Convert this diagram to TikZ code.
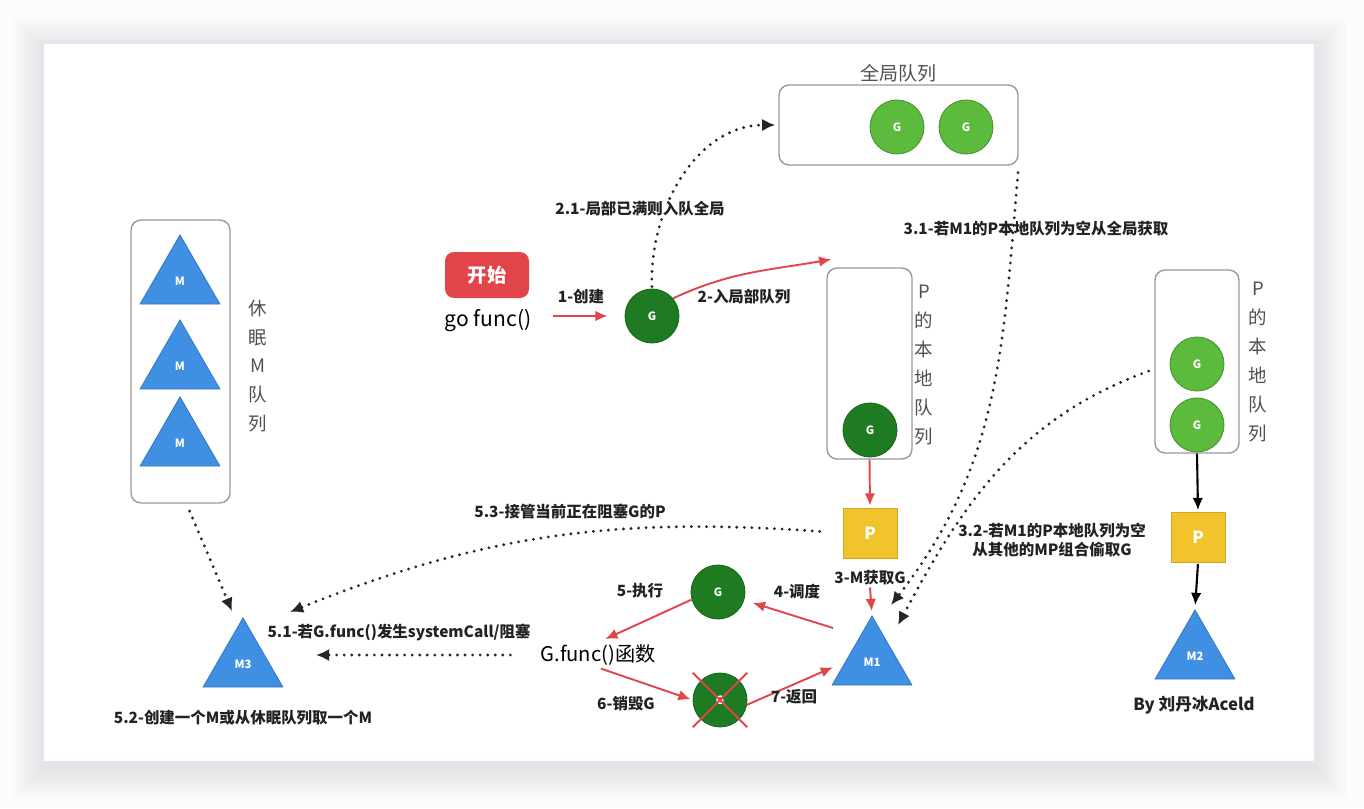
\documentclass[tikz,border=0pt]{standalone}
\usepackage{fontspec}
\setmainfont{Noto Sans CJK SC}
\usetikzlibrary{positioning, arrows.meta, shapes.geometric}
\definecolor{gdark}{HTML}{1E7B22}
\definecolor{glight}{HTML}{5CBA3C}
\definecolor{mblue}{HTML}{3F8FE3}
\definecolor{pyellow}{HTML}{F1C42D}
\definecolor{flowred}{HTML}{E0464C}
\definecolor{startred}{HTML}{E2444A}
\definecolor{queueborder}{HTML}{9A9A9A}
\definecolor{cardborder}{HTML}{E7E4EF}
\definecolor{labeltext}{HTML}{222222}
\definecolor{qtext}{HTML}{505050}

\begin{document}
\begin{tikzpicture}[
    x=0.02cm, y=-0.02cm,
    gnode/.style={circle, minimum size=1.08cm, inner sep=0pt, text=white, font=\fontsize{6.5}{6.5}\selectfont\bfseries, line width=0.5pt},
    gold/.style={gnode, fill=gdark, draw=gdark!85!black},
    gnew/.style={gnode, fill=glight, draw=glight!80!black},
    mtri/.style={regular polygon, regular polygon sides=3, minimum size=1.84cm, inner sep=0pt, fill=mblue, draw=mblue!85!black, line width=0.5pt, text=white, font=\fontsize{6.5}{6.5}\selectfont\bfseries},
    pbox/.style={rectangle, minimum width=1.08cm, minimum height=1.0cm, fill=pyellow, draw=pyellow!85!black, text=white, font=\fontsize{9.5}{10}\selectfont\bfseries},
    queue/.style={rectangle, rounded corners=0.2cm, draw=queueborder, line width=0.8pt, fill=white},
    qlabel/.style={font=\fontsize{10.5}{16.4}\selectfont, text=qtext, align=center, inner sep=0pt},
    lbl/.style={font=\fontsize{8.8}{10.6}\selectfont\bfseries, text=labeltext, inner sep=1pt},
    flow/.style={draw=flowred, line width=1.1pt, -{Latex[length=7pt,width=6pt]}},
    blackflow/.style={draw=black, line width=1.2pt, -{Latex[length=7pt,width=6pt]}},
    dotarrow/.style={draw=black!85, line width=1.8pt, dash pattern=on 0pt off 4.3pt, line cap=round, -{Latex[length=7.5pt,width=7pt]}},
]
\useasboundingbox (0,0) rectangle (1364,808);

% === CARD ===
\fill[black!1] (0,0) rectangle (1364,808);
\foreach \d in {30,26,...,2}
  \fill[black, opacity=0.012] (42-\d,42-\d+6) rectangle (1316+\d,763+\d+6);
\filldraw[fill=white, draw=cardborder, line width=0.09cm] (42,42) rectangle (1316,763);

% === GLOBAL QUEUE ===
\node[queue, minimum width=4.78cm, minimum height=1.6cm] (glob-q) at (898.5,125) {};
\node[qlabel, font=\fontsize{10.8}{12}\selectfont, above=0.04cm of glob-q] (glob-title) {全局队列};
\node[gnew] (glob-g1) at (897,127) {G};
\node[gnew] (glob-g2) at (966,127) {G};

% === START ===
\node[rectangle, rounded corners=0.18cm, minimum width=1.68cm, minimum height=0.92cm, fill=startred, text=white, font=\fontsize{11}{12}\selectfont\bfseries] (start) at (487,275) {开始};
\node[font=\fontsize{12}{13}\selectfont, inner sep=0pt] (gofunc) at (488,321) {go func()};
\node[gold] (g-new) at (652,316) {G};

\draw[flow, shorten <=0.42cm, shorten >=0.34cm] (gofunc.east |- g-new.west) -- (g-new.west);
\node[lbl] (lbl-create) at (581,297) {1-创建};

% === LOCAL QUEUE OF P (M1) ===
\node[queue, minimum width=1.7cm, minimum height=3.82cm] (local-q) at (869.5,363.5) {};
\node[qlabel] (local-title) at (924,365) {P\\的\\本\\地\\队\\列};
\node[gold] (local-g) at (870,430) {G};
\node[pbox] (p1) at (870,533) {P};
\node[lbl] (lbl-mget) at (870,578) {3-M获取G};
\node[mtri] (m1) at (872,662) {M1};

\draw[flow, shorten >=0.04cm] (local-q.south) -- (p1.north);
\draw[flow, shorten >=0.08cm] (lbl-mget.south) -- (m1.north);

\draw[flow] (g-new.40) to[out=25, in=190] ([xshift=0.1cm, yshift=0.16cm]local-q.north west);
\node[lbl] (lbl-local) at (744,297) {2-入局部队列};

\draw[dotarrow, shorten <=0.04cm, shorten >=0.06cm] (g-new.north) to[out=92, in=180] (glob-q.west);
\node[lbl, fill=white] (lbl-full) at (640,209) {2.1-局部已满则入队全局};

% === SCHEDULE / RUN ===
\node[gold] (g-run) at (718,592) {G};
\node[font=\fontsize{11.5}{13}\selectfont, inner sep=1pt] (gfunc) at (598,655) {G.func()函数};
\node[gold] (g-dead) at (720,700) {G};
\draw[draw=flowred, line width=1.1pt, shorten <=-0.22cm, shorten >=-0.22cm] (g-dead.north west) -- (g-dead.south east);
\draw[draw=flowred, line width=1.1pt, shorten <=-0.22cm, shorten >=-0.22cm] (g-dead.north east) -- (g-dead.south west);

\coordinate (m1-out) at (833,628);
\draw[flow, shorten >=0.18cm] (m1-out) -- (g-run);
\node[lbl] (lbl-sched) at (797,592) {4-调度};
\draw[flow, shorten >=0.16cm] (g-run.196) -- (gfunc.north);
\node[lbl] (lbl-exec) at (640,591) {5-执行};
\draw[flow, shorten <=0.06cm, shorten >=0.04cm] (gfunc.south) -- (g-dead.west);
\node[lbl] (lbl-destroy) at (626,704) {6-销毁G};
\draw[flow, shorten >=0.26cm] (g-dead.-10) -- (m1.west);
\node[lbl] (lbl-return) at (794,697) {7-返回};

% === SLEEPING M QUEUE ===
\node[queue, minimum width=1.98cm, minimum height=5.66cm] (sleep-q) at (180.5,361.5) {};
\node[qlabel] (sleep-title) at (258,366) {休\\眠\\M\\队\\列};
\node[mtri] (sleep-m1) at (180,281) {M};
\node[mtri] (sleep-m2) at (180,366) {M};
\node[mtri] (sleep-m3) at (180,443) {M};

\node[mtri] (m3) at (243,664) {M3};
\draw[dotarrow, shorten <=0.16cm] ([xshift=0.12cm]sleep-q.south) -- ([xshift=-0.22cm, yshift=0.12cm]m3.north);
\node[lbl] (lbl-newm) at (243,718) {5.2-创建一个M或从休眠队列取一个M};

\coordinate (m3-side) at (316,655);
\draw[dotarrow, shorten <=0.56cm] (gfunc.west) -- (m3-side);
\node[lbl] (lbl-syscall) at (399,632) {5.1-若G.func()发生systemCall/阻塞};

\coordinate (m3-top) at (290,612);
\draw[dotarrow, shorten <=0.46cm] (p1.west) to[out=176, in=22] (m3-top);
\node[lbl] (lbl-takeover) at (570,511) {5.3-接管当前正在阻塞G的P};

% === OTHER MP (M2) ===
\node[queue, minimum width=1.68cm, minimum height=3.66cm] (other-q) at (1197,361.5) {};
\node[qlabel] (other-title) at (1258,362) {P\\的\\本\\地\\队\\列};
\node[gnew] (other-g1) at (1197,364) {G};
\node[gnew] (other-g2) at (1197,425) {G};
\node[pbox] (p2) at (1198,537.5) {P};
\node[mtri] (m2) at (1195,656) {M2};

\draw[blackflow, shorten >=0.04cm] (other-q.south) -- (p2.north);
\draw[blackflow, shorten <=0.02cm, shorten >=0.08cm] (p2.south) -- (m2.north);

\node[lbl, font=\fontsize{9.5}{11}\selectfont\bfseries] (author) at (1194,705) {By 刘丹冰Aceld};

% === STEALING ===
\coordinate (m1-in-a) at (891,605);
\coordinate (m1-in-b) at (898,625);
\draw[dotarrow, shorten <=0.14cm] (glob-q.south east) to[out=-95, in=52] (m1-in-a);
\node[lbl] (lbl-global) at (1036,229) {3.1-若M1的P本地队列为空从全局获取};

\draw[dotarrow, shorten <=0.12cm] (other-q.-170) to[out=200, in=62] (m1-in-b);
\node[lbl, align=center] (lbl-steal) at (1052,540) {3.2-若M1的P本地队列为空\\从其他的MP组合偷取G};

\end{tikzpicture}
\end{document}
